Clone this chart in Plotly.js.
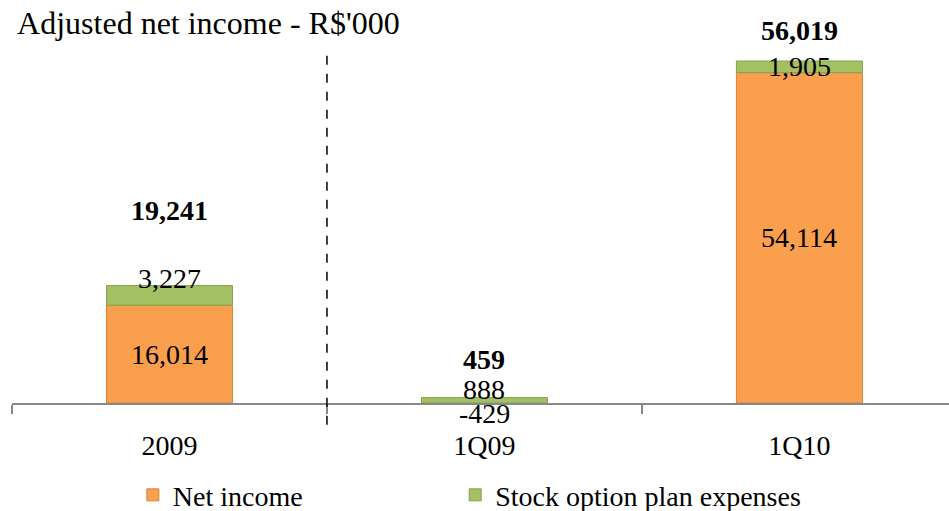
<!DOCTYPE html>
<html>
<head>
<meta charset="utf-8">
<script src="https://cdn.plot.ly/plotly-3.0.1.min.js"></script>
<style>html,body{margin:0;padding:0;background:#fff;}#chart{width:949px;height:511px;}</style>
</head>
<body>
<div id="chart"></div>
<script>
// ---- data ----
var categories = ["2009", "1Q09", "1Q10"];
var netIncome = [16014, -429, 54114];
var stockOption = [3227, 888, 1905];
var totals = [19241, 459, 56019];
var seriesNames = ["Net income", "Stock option plan expenses"];

// ---- styling helpers (not data) ----
var FONT = "'Liberation Serif', 'Times New Roman', serif";
var fmt = function (v) { return v.toLocaleString("en-US"); };
var orange = "#FA9F4E", green = "#A3C163";

var traces = [
  {type: "bar", name: seriesNames[0], x: categories, y: netIncome, width: 0.4, legend: "legend",
   marker: {color: orange, line: {color: "#D9823B", width: 1}}, cliponaxis: false, hoverinfo: "none"},
  {type: "bar", name: seriesNames[1], x: categories, y: stockOption, width: 0.4, legend: "legend2",
   marker: {color: green, line: {color: "#87A04C", width: 1}}, cliponaxis: false, hoverinfo: "none"}
];

// label placement offsets in px (style, not data)
var netShift = [0, -10, 0];
var optShift = [17, 11, 0];
var totShift = [75, 41, 31];

var annotations = [];
categories.forEach(function (c, i) {
  var ni = netIncome[i], so = stockOption[i];
  var niMid = Math.max(ni / 2, 0);   // anchor inside visible range; offset handles negatives
  var soBase = ni > 0 ? ni : 0;
  var soMid = soBase + so / 2;
  var f = {family: FONT, size: 28, color: "#000"};
  annotations.push({x: i, y: niMid, xref: "x", yref: "y", text: fmt(ni), showarrow: false,
    yshift: netShift[i], font: f});
  annotations.push({x: i, y: soMid, xref: "x", yref: "y", text: fmt(so), showarrow: false,
    yshift: optShift[i], font: f});
  annotations.push({x: i, y: Math.max(totals[i], 0), xref: "x", yref: "y", text: "<b>" + fmt(totals[i]) + "</b>",
    showarrow: false, yshift: totShift[i], font: f});
});

var legendFont = {family: FONT, size: 28, color: "#000"};
var layout = {
  width: 949, height: 511,
  font: {family: FONT, size: 28, color: "#000"},
  margin: {l: 12, r: 0, t: 40, b: 108, autoexpand: false},
  paper_bgcolor: "#fff", plot_bgcolor: "#fff",
  barmode: "relative",
  showlegend: true,
  title: {text: "Adjusted net income - R$'000", x: 0.018, xanchor: "left", xref: "container",
          y: 0.955, yanchor: "middle", yref: "container",
          font: {family: FONT, size: 32, color: "#000"}},
  xaxis: {type: "category", range: [-0.5, 2.475], showline: true, linecolor: "#888", linewidth: 2,
          ticks: "outside", tickson: "boundaries", ticklen: 9, tickcolor: "#888", tickwidth: 1.5,
          ticklabelstandoff: 16, automargin: false,
          showgrid: false, zeroline: false, fixedrange: true,
          tickfont: {family: FONT, size: 28, color: "#000"}},
  yaxis: {range: [0, 59458], visible: false, showgrid: false, zeroline: false, fixedrange: true},
  legend: {orientation: "h", x: 0.129, xanchor: "left", yref: "container", y: 0.031, yanchor: "middle",
           font: legendFont, itemclick: false, bgcolor: "rgba(0,0,0,0)"},
  legend2: {orientation: "h", x: 0.473, xanchor: "left", yref: "container", y: 0.031, yanchor: "middle",
           font: legendFont, itemclick: false, bgcolor: "rgba(0,0,0,0)"},
  annotations: annotations,
  shapes: [{type: "line", xref: "x", yref: "paper", x0: 0.5, x1: 0.5, y0: -0.06, y1: 0.967,
            line: {color: "#000", width: 1.5, dash: "dash"}}]
};

Plotly.newPlot("chart", traces, layout, {staticPlot: true, displayModeBar: false});
</script>
</body>
</html>
